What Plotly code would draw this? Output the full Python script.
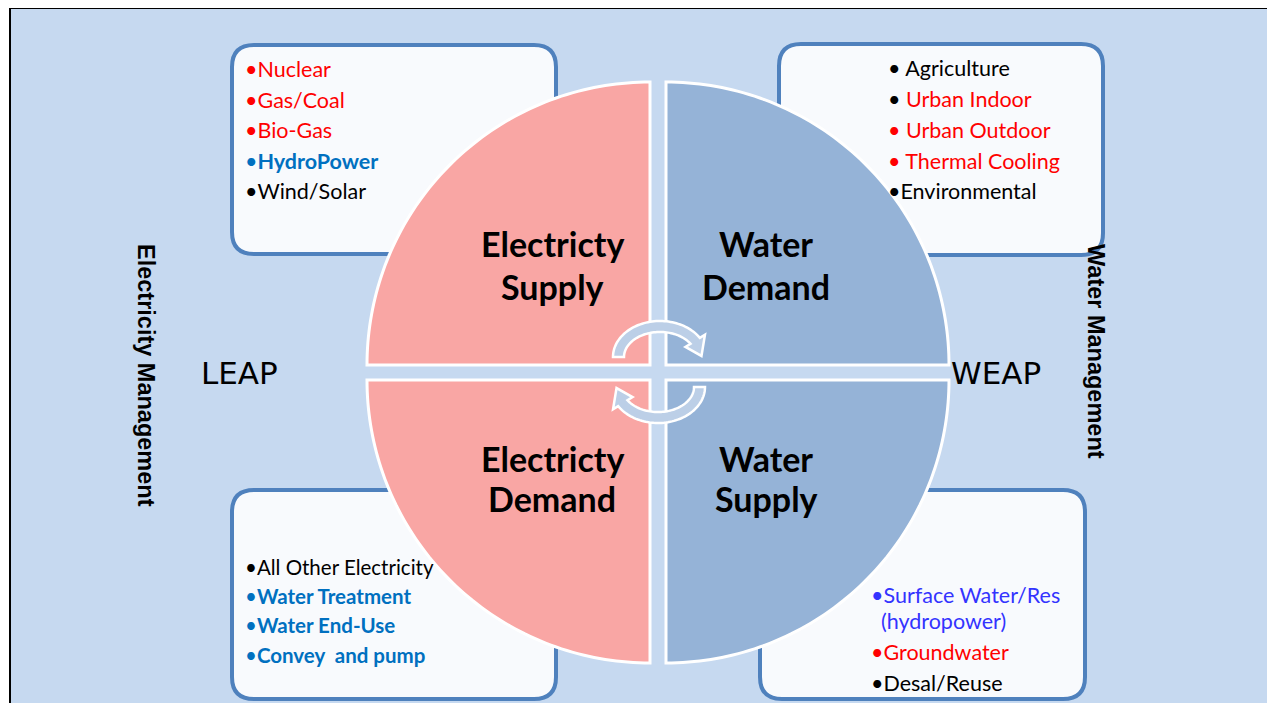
import numpy as np
import plotly.graph_objects as go

W, H = 1275, 703
OFF = 8  # page body margin

# ---------------- data ----------------
quad_titles = [["Electricty", "Supply"], ["Water", "Demand"],
               ["Electricty", "Demand"], ["Water", "Supply"]]
quad_colors = ["#F9A6A4", "#95B3D7", "#F9A6A4", "#95B3D7"]

tl_items = ["Nuclear", "Gas/Coal", "Bio-Gas", "HydroPower", "Wind/Solar"]
tl_text_colors = ["#FF0000", "#FF0000", "#FF0000", "#0070C0", "#000000"]
tl_bullet_colors = ["#FF0000", "#FF0000", "#FF0000", "#0070C0", "#000000"]
tl_bold = [False, False, False, True, False]

tr_items = ["Agriculture", "Urban Indoor", "Urban Outdoor", "Thermal Cooling", "Environmental"]
tr_text_colors = ["#000000", "#FF0000", "#FF0000", "#FF0000", "#000000"]
tr_bullet_colors = ["#000000", "#000000", "#FF0000", "#FF0000", "#000000"]
tr_bold = [False, False, False, False, False]
tr_sep = [" ", " ", " ", " ", ""]

bl_items = ["All Other Electricity", "Water Treatment", "Water End-Use", "Convey  and pump"]
bl_text_colors = ["#000000", "#0070C0", "#0070C0", "#0070C0"]
bl_bullet_colors = ["#000000", "#0070C0", "#0070C0", "#0070C0"]
bl_bold = [False, True, True, True]

br_items = ["Surface Water/Res", "(hydropower)", "Groundwater", "Desal/Reuse"]
br_text_colors = ["#3333FF", "#3333FF", "#FF0000", "#000000"]
br_bullet_colors = ["#3333FF", None, "#FF0000", "#000000"]
br_bold = [False, False, False, False]

side_labels = ["LEAP", "WEAP"]
vertical_labels = ["Electricity Management", "Water Management"]

# ---------------- helpers ----------------
BG = "#C6D9F0"
BOX_FILL = "#F8FAFD"
BOX_LINE = "#4F81BD"
FONT = "Lato, 'Open Sans', sans-serif"


def rounded_rect(x0, y0, x1, y1, r):
    return (f"M{x0+r},{y0} L{x1-r},{y0} Q{x1},{y0} {x1},{y0+r} "
            f"L{x1},{y1-r} Q{x1},{y1} {x1-r},{y1} L{x0+r},{y1} "
            f"Q{x0},{y1} {x0},{y1-r} L{x0},{y0+r} Q{x0},{y0} {x0+r},{y0} Z")


def quadrant(cx, cy, sx, sy, r, n=80):
    t = np.linspace(0, np.pi / 2, n)
    xs = cx + sx * r * np.cos(t)
    ys = cy + sy * r * np.sin(t)
    pts = " ".join(f"L{x:.2f},{y:.2f}" for x, y in zip(xs, ys))
    return f"M{cx},{cy} {pts} Z"


def arc_arrow(cx, cy, rx, ry, thick, t0, t1, head_w, t_tip, rot=False, n=60):
    def pt(rxx, ryy, t):
        a = np.radians(t)
        x, y = cx + rxx * np.cos(a), cy - ryy * np.sin(a)
        if rot:
            x, y = 2 * 659 - x, 2 * 372 - y
        return x, y
    ts = np.linspace(t0, t1, n)
    outer = [pt(rx, ry, t) for t in ts]
    inner = [pt(rx - thick, ry - thick, t) for t in ts[::-1]]
    midrx, midry = rx - thick / 2, ry - thick / 2
    head = [pt(rx + head_w, ry + head_w, t1), pt(midrx, midry, t_tip),
            pt(rx - thick - head_w, ry - thick - head_w, t1)]
    pts = outer + head + inner
    return f"M{pts[0][0]:.2f},{pts[0][1]:.2f} " + " ".join(f"L{x:.2f},{y:.2f}" for x, y in pts[1:]) + " Z"


shapes = []
shapes.append(dict(type="rect", xref="x", yref="y", x0=10, y0=8, x1=1300, y1=730,
                   fillcolor=BG, line=dict(color="black", width=2), layer="below"))

boxes = [(232, 45, 556, 254), (779, 44, 1103, 255), (232, 490, 556, 699), (760, 490, 1085, 699)]
for b in boxes:
    shapes.append(dict(type="path", xref="x", yref="y", path=rounded_rect(*b, 22),
                       fillcolor=BOX_FILL, line=dict(color=BOX_LINE, width=4)))

R = 283
quad_geom = [(650, 365, -1, -1), (666, 365, 1, -1), (650, 380, -1, 1), (666, 380, 1, 1)]
for (cx, cy, sx, sy), col in zip(quad_geom, quad_colors):
    shapes.append(dict(type="path", xref="x", yref="y", path=quadrant(cx, cy, sx, sy, R),
                       fillcolor=col, line=dict(color="white", width=3)))

ARROW_FILL = "#BCCFE7"
for rot in (False, True):
    shapes.append(dict(type="path", xref="x", yref="y",
                       path=arc_arrow(660, 357, 47, 36, 11, 180, 32, 6, 2, rot=rot),
                       fillcolor=ARROW_FILL, line=dict(color="white", width=2.5)))

annotations = []


def add_items(items, tcols, bcols, bold, x, ys, size=21.5, seps=None):
    for i, (txt, tc, bc, bd, y) in enumerate(zip(items, tcols, bcols, bold, ys)):
        sep = seps[i] if seps else ""
        body = f"<b>{txt}</b>" if bd else txt
        if bc is None:
            label = f"<span style='color:{tc}'>{body}</span>"
            xx = x + 10
        else:
            label = (f"<span style='color:{bc}'>•{sep}</span>"
                     f"<span style='color:{tc}'>{body}</span>")
            xx = x
        annotations.append(dict(x=xx, y=y, xref="x", yref="y", text=label, showarrow=False,
                                xanchor="left", yanchor="middle",
                                font=dict(family=FONT, size=size, color=tc)))


add_items(tl_items, tl_text_colors, tl_bullet_colors, tl_bold, 243, [69, 100, 130, 161, 191])
add_items(tr_items, tr_text_colors, tr_bullet_colors, tr_bold, 886, [68, 99, 130, 161, 191], seps=tr_sep)
add_items(bl_items, bl_text_colors, bl_bullet_colors, bl_bold, 243, [567, 596, 625, 655], size=20.5)
add_items(br_items, br_text_colors, br_bullet_colors, br_bold, 869, [595, 621, 652, 683])

title_pos = [(552, 243, 286), (766, 243, 286), (552, 458, 498), (766, 458, 498)]
for (x, y1, y2), lines in zip(title_pos, quad_titles):
    for y, ln in zip((y1, y2), lines):
        annotations.append(dict(x=x, y=y, xref="x", yref="y", text=f"<b>{ln}</b>", showarrow=False,
                                xanchor="center", yanchor="middle",
                                font=dict(family=FONT, size=34, color="black")))

for x, lab in zip((239, 996), side_labels):
    annotations.append(dict(x=x, y=373, xref="x", yref="y", text=lab, showarrow=False,
                            xanchor="center", yanchor="middle",
                            font=dict(family="'DejaVu Sans', sans-serif", size=31, color="black")))

for (x, y), lab in zip(((146, 375), (1096, 351)), vertical_labels):
    annotations.append(dict(x=x, y=y, xref="x", yref="y", text=f"<b>{lab}</b>", showarrow=False,
                            textangle=90, xanchor="center", yanchor="middle",
                            font=dict(family="'Liberation Sans', Arial, sans-serif", size=23.5, color="black")))

fig = go.Figure()
fig.update_layout(
    width=W - OFF, height=H - OFF, margin=dict(l=0, r=0, t=0, b=0),
    paper_bgcolor="white", plot_bgcolor="white",
    xaxis=dict(range=[OFF, W], visible=False, fixedrange=True),
    yaxis=dict(range=[H, OFF], visible=False, fixedrange=True),
    shapes=shapes, annotations=annotations, showlegend=False,
)
fig.write_html("out.html",
               post_script="document.documentElement.style.overflow='hidden';document.body.style.overflow='hidden';")
